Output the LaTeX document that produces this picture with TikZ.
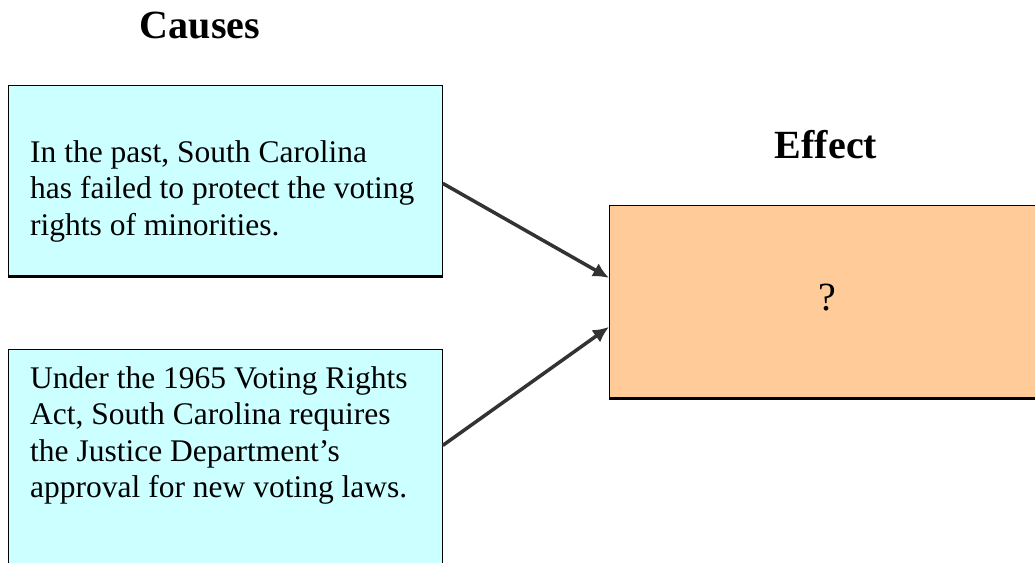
\documentclass[tikz,border=0pt]{standalone}
\usepackage{fontspec}
\setmainfont{Liberation Serif}
\usetikzlibrary{arrows.meta}
\definecolor{causecol}{HTML}{CCFFFF}
\definecolor{effectcol}{HTML}{FFCC99}
\tikzset{
  causebox/.style={draw=black, fill=causecol, line width=0.8pt, anchor=north west, inner sep=0pt},
  effectbox/.style={draw=black, fill=effectcol, line width=0.8pt, anchor=north west, inner sep=0pt},
  boxtext/.style={anchor=north west, inner sep=0pt, align=left, font=\fontsize{31.5}{36.5}\selectfont},
  heading/.style={font=\fontsize{40}{44}\selectfont\bfseries},
  causearrow/.style={draw=black!80, line width=3.5pt, -{Latex[length=16pt,width=15pt]}}
}
\begin{document}
\begin{tikzpicture}[x=1pt, y=-1pt]
  \clip (0,0) rectangle (1035,562);
  \fill[white] (0,0) rectangle (1035,562);
  % titles
  \node[heading] (causes) at (200,26) {Causes};
  \node[heading] (effecttitle) at (826,145) {Effect};
  % cause boxes
  \node[causebox, minimum width=434pt, minimum height=191pt] (past) at (8,85) {};
  \draw[line width=3pt] (past.south west) -- (past.south east);
  \node[boxtext] (pasttext) at (30,140) {In the past, South Carolina\\has failed to protect the voting\\rights of minorities.};
  \node[causebox, minimum width=434pt, minimum height=230pt] (act) at (8,349) {};
  \node[boxtext] (acttext) at (30,366) {Under the 1965 Voting Rights\\Act, South Carolina requires\\the Justice Department's\\approval for new voting laws.};
  % effect box
  \node[effectbox, minimum width=440pt, minimum height=193pt] (effect) at (609,205) {};
  \draw[line width=3pt] (effect.south west) -- (effect.south east);
  \node[font=\fontsize{40}{44}\selectfont] (question) at (827,298) {?};
  % arrows
  \coordinate (out1) at ([yshift=-2.5pt]past.east);
  \coordinate (out2) at ([yshift=19pt]act.east);
  \coordinate (in1) at ([yshift=24pt]effect.west);
  \coordinate (in2) at ([yshift=-25pt]effect.west);
  \draw[causearrow] (out1) -- (in1);
  \draw[causearrow] (out2) -- (in2);
\end{tikzpicture}
\end{document}
